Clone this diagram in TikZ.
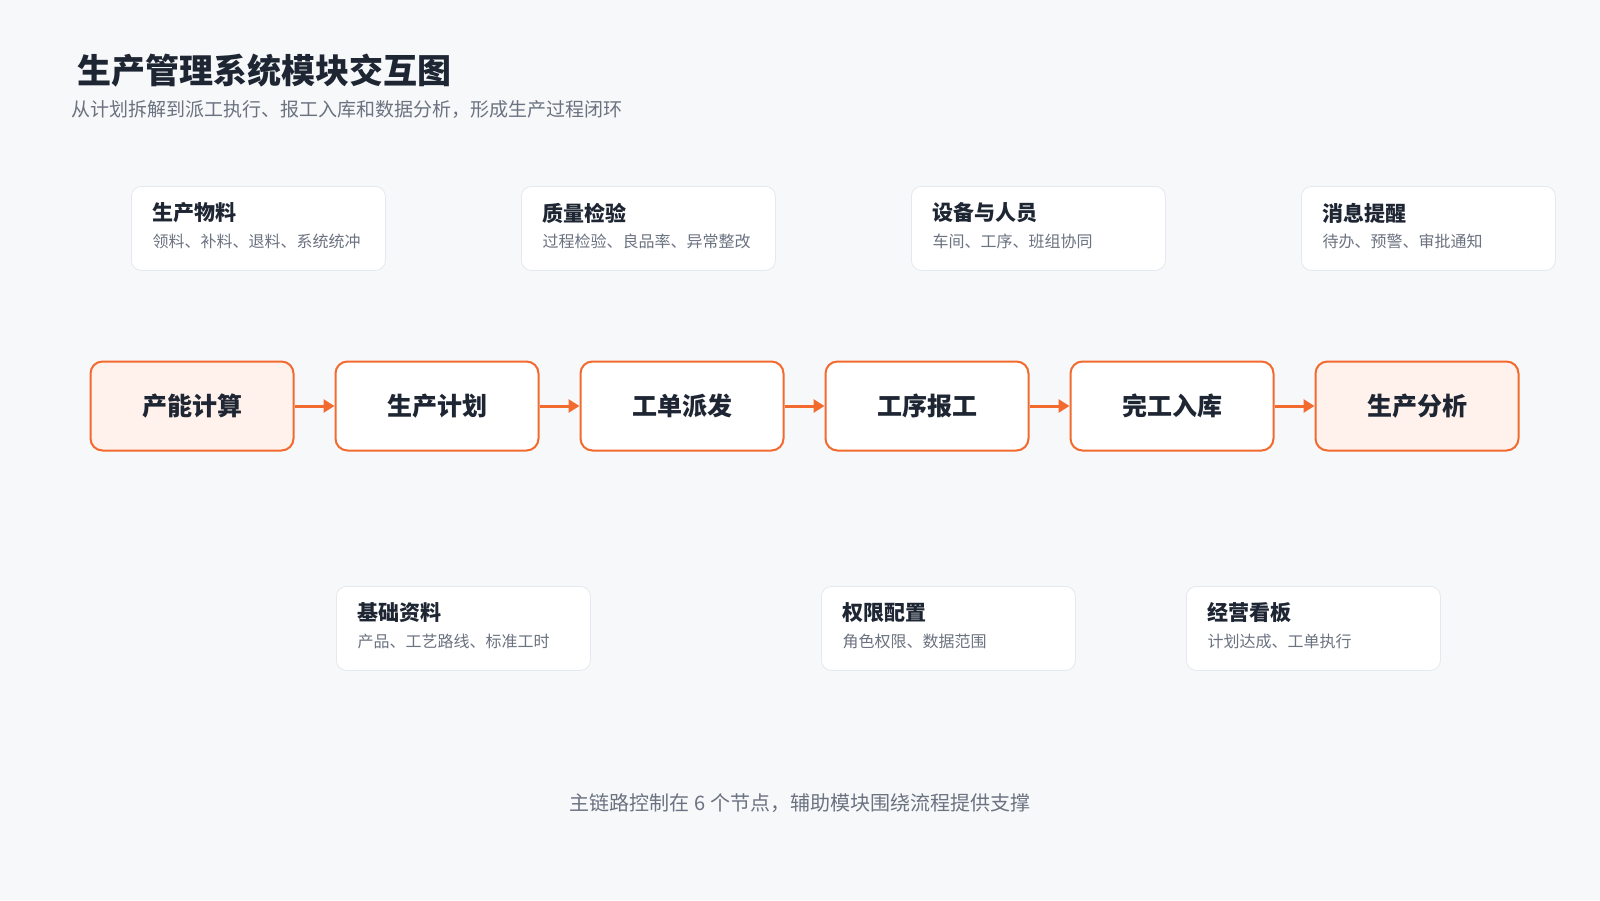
\documentclass[tikz,border=0pt]{standalone}
\usepackage{fontspec}
\setmainfont{Noto Sans CJK SC}
\usetikzlibrary{arrows.meta}
\definecolor{bg}{HTML}{F7F8FA}
\definecolor{org}{HTML}{F26A2E}
\definecolor{orgfill}{HTML}{FFF2EC}
\definecolor{ink}{HTML}{1F2633}
\definecolor{gray1}{HTML}{6B7280}
\definecolor{cardline}{HTML}{E5E8EE}
\tikzset{
  main/.style={draw=org,line width=2pt,rounded corners=12pt,fill=white,minimum width=203pt,minimum height=89pt,font=\fontsize{25}{30}\selectfont\bfseries,text=ink},
  hl/.style={main,fill=orgfill},
  card/.style={draw=cardline,line width=0.8pt,rounded corners=10pt,fill=white,minimum width=254pt,minimum height=84pt},
  ctitle/.style={anchor=west,font=\fontsize{21}{25}\selectfont\bfseries,text=ink},
  csub/.style={anchor=west,font=\fontsize{16}{19}\selectfont,text=gray1},
  arr/.style={draw=org,line width=3pt,-{Triangle[length=11pt,width=13pt]}}
}
\newcommand{\mycard}[5]{%
  \node[card,anchor=north west] (#1) at (#2,#3) {};
  \node[ctitle] (#1t) at ([xshift=18pt,yshift=-27pt]#1.north west) {#4};
  \node[csub] (#1s) at ([xshift=18pt,yshift=-55pt]#1.north west) {#5};
}
\begin{document}
\begin{tikzpicture}[x=1pt,y=-1pt]
\fill[bg] (0,0) rectangle (1600,900);
\useasboundingbox (0,0) rectangle (1600,900);
\node[anchor=west,font=\fontsize{34}{40}\selectfont\bfseries,text=ink] (title) at (74,71) {生产管理系统模块交互图};
\node[anchor=west,font=\fontsize{19}{23}\selectfont,text=gray1] (sub) at (68,110) {从计划拆解到派工执行、报工入库和数据分析，形成生产过程闭环};

\mycard{c1}{131}{186}{生产物料}{领料、补料、退料、系统统冲}
\mycard{c2}{521}{186}{质量检验}{过程检验、良品率、异常整改}
\mycard{c3}{911}{186}{设备与人员}{车间、工序、班组协同}
\mycard{c4}{1301}{186}{消息提醒}{待办、预警、审批通知}
\mycard{c5}{336}{586}{基础资料}{产品、工艺路线、标准工时}
\mycard{c6}{821}{586}{权限配置}{角色权限、数据范围}
\mycard{c7}{1186}{586}{经营看板}{计划达成、工单执行}

\node[hl] (m1) at (192,406) {产能计算};
\node[main] (m2) at (437,406) {生产计划};
\node[main] (m3) at (682,406) {工单派发};
\node[main] (m4) at (927,406) {工序报工};
\node[main] (m5) at (1172,406) {完工入库};
\node[hl] (m6) at (1417,406) {生产分析};
\foreach \a/\b in {m1/m2,m2/m3,m3/m4,m4/m5,m5/m6}
  \draw[arr] (\a.east) -- (\b.west);

\node[font=\fontsize{20}{24}\selectfont,text=gray1] (foot) at (800,803) {主链路控制在 6 个节点，辅助模块围绕流程提供支撑};
\end{tikzpicture}
\end{document}
